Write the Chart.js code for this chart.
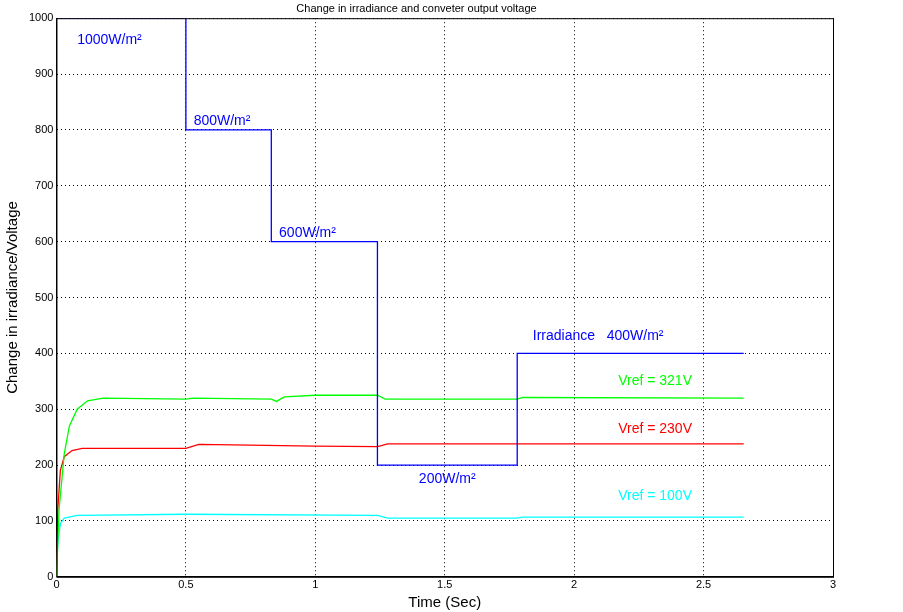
<!DOCTYPE html><html><head><script src="https://cdn.jsdelivr.net/npm/chart.js@4"></script>
<style>body{margin:0;background:#fff}#w{width:903px;height:612px}</style></head><body><div id="w"><canvas id="c"></canvas></div>
<script>
const irrT=[0,0.5,0.5,0.83,0.83,1.24,1.24,1.78,1.78,2.655];
const irrV=[1000,1000,800,800,600,600,200,200,400,400];
const gT=[0,0.01,0.03,0.05,0.08,0.12,0.18,0.5,0.53,0.83,0.85,0.88,1.0,1.24,1.27,1.78,1.8,2.655];
const gV=[0,120,220,270,300,315,320,318,320,318,314,322,325,325,318,318,321,320];
const rT=[0,0.005,0.015,0.03,0.06,0.1,0.5,0.55,1.0,1.24,1.28,1.78,2.655];
const rV=[0,120,190,215,226,230,230,237,234,233,238,238,238];
const cT=[0,0.005,0.015,0.03,0.08,0.5,1.24,1.28,1.78,1.8,2.655];
const cV=[0,60,95,105,110,112,110,105,105,107,107];
const labels=[
 {t:'1000W/m²',x:0.08,y:960,c:'#0000ff'},{t:'800W/m²',x:0.53,y:815,c:'#0000ff'},
 {t:'600W/m²',x:0.86,y:615,c:'#0000ff'},{t:'200W/m²',x:1.40,y:175,c:'#0000ff'},
 {t:'Irradiance   400W/m²',x:1.84,y:430,c:'#0000ff'},{t:'Vref = 321V',x:2.17,y:350,c:'#00ff00'},
 {t:'Vref = 230V',x:2.17,y:265,c:'#ff0000'},{t:'Vref = 100V',x:2.17,y:145,c:'#00ffff'}];
const pts=(t,v)=>t.map((x,i)=>({x,y:v[i]}));
const ds=(t,v,col)=>({data:pts(t,v),borderColor:col,borderWidth:1.3,pointRadius:0,showLine:true,tension:0});
new Chart(document.getElementById('c'),{type:'scatter',
data:{datasets:[ds(irrT,irrV,'#0000ff'),ds(gT,gV,'#00ff00'),ds(rT,rV,'#ff0000'),ds(cT,cV,'#00ffff')]},
options:{responsive:true,maintainAspectRatio:false,animation:false,
layout:{padding:{left:0,right:70,top:0,bottom:0}},
plugins:{legend:{display:false},tooltip:{enabled:false},
 title:{display:true,text:'Change in irradiance and conveter output voltage',font:{family:'Liberation Sans',size:11,weight:'normal'},color:'#000',padding:{top:2,bottom:3}}},
scales:{
 x:{type:'linear',min:0,max:3,ticks:{stepSize:0.5,color:'#000',font:{size:11,family:'Liberation Sans'},maxRotation:0,padding:2,callback:v=>String(v)},
  grid:{color:'#000',tickLength:0},border:{color:'#000',dash:[1,3]},
  title:{display:true,text:'Time (Sec)',color:'#000',font:{size:15,family:'Liberation Sans'},padding:{top:0,bottom:0}}},
 y:{min:0,max:1000,ticks:{stepSize:100,color:'#000',font:{size:11,family:'Liberation Sans'},callback:v=>String(v)},
  grid:{color:'#000',tickLength:0},border:{color:'#000',dash:[1,3]},
  title:{display:true,text:'Change in irradiance/Voltage',color:'#000',font:{size:15,family:'Liberation Sans'}}}}},
plugins:[{id:'lbl',afterDatasetsDraw(ch){const c=ch.ctx,xs=ch.scales.x,ys=ch.scales.y;c.save();
 c.font='14px Liberation Sans';c.textBaseline='middle';
 labels.forEach(l=>{c.fillStyle=l.c;c.fillText(l.t,xs.getPixelForValue(l.x),ys.getPixelForValue(l.y));});
 c.strokeStyle='#000';c.lineWidth=1;c.strokeRect(ch.chartArea.left+0.5,ch.chartArea.top+0.5,ch.chartArea.width,ch.chartArea.height);c.restore();}}]
});
</script></body></html>
